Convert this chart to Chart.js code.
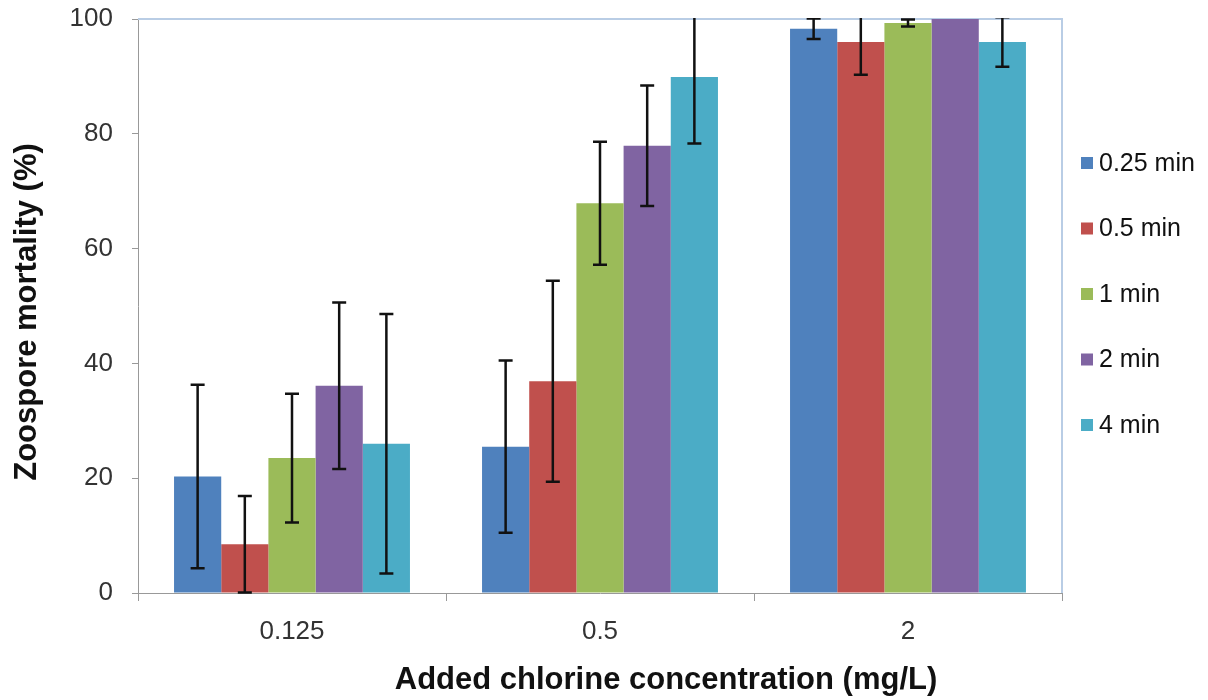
<!DOCTYPE html>
<html>
<head>
<meta charset="utf-8">
<script src="https://cdn.jsdelivr.net/npm/chart.js@4"></script>
<style>
  html, body { margin: 0; padding: 0; background: #fff; }
  #wrap { width: 1208px; height: 700px; }
</style>
</head>
<body>
<div id="wrap"><canvas id="chart" width="1208" height="700"></canvas></div>
<script>
// categorias (concentracion de cloro, mg/L)
const concentraciones = ["0.125", "0.5", "2"];
const tiempos = ["0.25 min", "0.5 min", "1 min", "2 min", "4 min"];

// mortalidad media (%) por tiempo
const m025 = [20.3, 25.5, 98.3];
const m05  = [8.5, 36.9, 96.0];
const m1   = [23.5, 67.9, 99.3];
const m2   = [36.1, 77.9, 100];
const m4   = [26.0, 89.9, 96.0];

// error (+/-)
const e025 = [16.0, 15.0, 1.8];
const e05  = [8.4, 17.5, 5.7];
const e1   = [11.2, 10.7, 0.6];
const e2   = [14.5, 10.5, 0];
const e4   = [22.6, 11.6, 4.3];

const colores = ["#4f81bd", "#c0504d", "#9bbb59", "#8064a2", "#4bacc6"];

const tituloX = "Added chlorine concentration (mg/L)";
const tituloY = "Zoospore mortality (%)";

const valores = [m025, m05, m1, m2, m4];
const errores = [e025, e05, e1, e2, e4];

const fuente = "'Liberation Sans', Arial, sans-serif";

// barras de error
const errorBars = {
  id: "errorBars",
  afterDatasetsDraw(chart) {
    const ctx = chart.ctx;
    const y = chart.scales.y;
    const area = chart.chartArea;
    ctx.save();
    ctx.beginPath();
    ctx.rect(area.left, area.top - 1, area.right - area.left, area.bottom - area.top + 2);
    ctx.clip();
    ctx.strokeStyle = "#111";
    ctx.lineWidth = 2.5;
    chart.data.datasets.forEach((ds, i) => {
      const meta = chart.getDatasetMeta(i);
      meta.data.forEach((bar, j) => {
        const err = errores[i][j];
        if (!err) return;
        const v = ds.data[j];
        const yTop = y.getPixelForValue(v + err);
        const yBot = y.getPixelForValue(v - err);
        const x = bar.x;
        ctx.beginPath();
        ctx.moveTo(x, yTop); ctx.lineTo(x, yBot);
        ctx.moveTo(x - 7, yTop); ctx.lineTo(x + 7, yTop);
        ctx.moveTo(x - 7, yBot); ctx.lineTo(x + 7, yBot);
        ctx.stroke();
      });
    });
    ctx.restore();
  }
};

// borde del area, titulos y leyenda
const marco = {
  id: "marco",
  beforeDatasetsDraw(chart) {
    const ctx = chart.ctx;
    const a = chart.chartArea;
    ctx.save();
    ctx.strokeStyle = "#b9cde5";
    ctx.lineWidth = 2;
    ctx.beginPath();
    ctx.moveTo(a.left, a.top);
    ctx.lineTo(a.right, a.top);
    ctx.lineTo(a.right, a.bottom);
    ctx.stroke();
    ctx.restore();
  },
  afterDraw(chart) {
    const ctx = chart.ctx;
    ctx.save();
    ctx.fillStyle = "#111";
    ctx.font = "bold 31px " + fuente;
    ctx.textAlign = "center";
    ctx.textBaseline = "middle";
    ctx.fillText(tituloX, 666, 680);
    ctx.save();
    ctx.translate(27, 312);
    ctx.rotate(-Math.PI / 2);
    ctx.fillText(tituloY, 0, 0);
    ctx.restore();

    ctx.font = "25px " + fuente;
    ctx.textAlign = "left";
    chart.data.datasets.forEach((ds, i) => {
      const yy = 163 + i * 65.5;
      ctx.fillStyle = ds.backgroundColor;
      ctx.fillRect(1081, yy - 6, 12, 12);
      ctx.fillStyle = "#111";
      ctx.fillText(ds.label, 1099, yy + 1);
    });
    ctx.restore();
  }
};

new Chart(document.getElementById("chart"), {
  type: "bar",
  data: {
    labels: concentraciones,
    datasets: tiempos.map((t, i) => ({
      label: t,
      data: valores[i],
      backgroundColor: colores[i],
      borderWidth: 0,
      barPercentage: 1,
      categoryPercentage: 0.766
    }))
  },
  options: {
    responsive: false,
    animation: false,
    layout: { padding: { top: 19, right: 146, left: 0, bottom: 0 } },
    plugins: {
      legend: { display: false },
      tooltip: { enabled: false }
    },
    scales: {
      x: {
        offset: true,
        grid: { offset: true, drawOnChartArea: false, color: "#999", tickLength: 8, tickWidth: 1 },
        border: { color: "#999", width: 1 },
        ticks: { color: "#333", font: { family: fuente, size: 26 }, padding: 15 },
        afterFit(s) { s.height = 107; s.paddingLeft = 0; s.paddingRight = 0; }
      },
      y: {
        min: 0, max: 100,
        ticks: { stepSize: 20, color: "#333", font: { family: fuente, size: 26 }, padding: 19 },
        grid: { drawOnChartArea: false, color: "#999", tickLength: 6 },
        border: { color: "#999", width: 1 },
        afterFit(s) { s.width = 138; s.paddingTop = 0; s.paddingBottom = 0; }
      }
    }
  },
  plugins: [errorBars, marco]
});
</script>
</body>
</html>
